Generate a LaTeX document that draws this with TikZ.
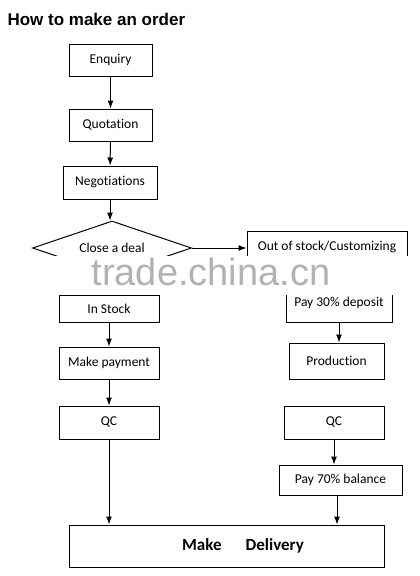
\documentclass[tikz,border=0pt]{standalone}
\usepackage{fontspec}
\setmainfont{Carlito}[Ligatures=NoCommon]
\newfontfamily\titlefont{Liberation Sans}
\usetikzlibrary{arrows.meta, positioning, shapes.geometric}
\tikzset{
  box/.style={draw, line width=1pt, minimum height=32, minimum width=100, inner sep=0pt,
    font=\fontsize{13.5}{15}\selectfont},
  decision/.style={box, diamond, aspect=3, minimum height=54, minimum width=159},
  arr/.style={-{Latex[length=8pt, width=6pt]}, line width=1pt},
}

\begin{document}
\begin{tikzpicture}[x=1pt, y=-1pt]
    \useasboundingbox[fill=white] (0,0) rectangle (420,576);
    \node[anchor=west, font=\titlefont\bfseries\fontsize{17}{19}\selectfont] (title) at (4,19) {How to make an order};
    % main line
    \node[box, minimum width=83] (enq) at (110.5,60) {Enquiry};
    \node[box, minimum width=83] (quot) at (110.5,125) {Quotation};
    \node[box, minimum width=94, minimum height=33] (nego) at (110,182.5) {Negotiations};
    \node[decision] (deal) at (112,248) {Close a deal};
    % left column
    \node[box, minimum height=27] (instock) at (109,308.5) {In Stock};
    \node[box] (pay) at (109,363) {Make payment};
    \node[box, minimum height=33] (qcl) at (109,422.5) {QC};
    % right column
    \node[box, minimum width=160, minimum height=31] (custom) at (327,246.5) {Out of stock/Customizing};
    \node[box, minimum width=106, minimum height=38] (dep) at (339,303) {Pay 30\% deposit};
    \node[box, minimum width=95, minimum height=36] (prod) at (336.5,361) {Production};
    \node[box, minimum height=33] (qcr) at (334,422.5) {QC};
    \node[box, minimum width=123, minimum height=30] (bal) at (340.5,480) {Pay 70\% balance};
    \node[box, minimum width=315, minimum height=42, font=\bfseries\fontsize{17}{19}\selectfont] (deliv) at (226.5,546)
      {\hspace*{33pt}Make\hspace{24pt}Delivery};
    \draw[arr] (enq) -- (quot);
    \draw[arr] (quot) -- (nego);
    \draw[arr] (nego.south) -- (nego.south |- deal.north);
    \draw[arr] (deal.east) -- (deal.east -| custom.west);
    \draw[arr] (deal.south) -- (deal.south |- instock.north);
    \draw[arr] (instock) -- (pay);
    \draw[arr] (pay) -- (qcl);
    \draw[arr] (qcl.south) -- (qcl.south |- deliv.north);
    \draw[arr] (custom.south -| dep) -- (dep.north);
    \draw[arr] (dep.south) -- (dep.south |- prod.north);
    \draw[arr] (qcr.south) -- (qcr.south |- bal.north);
    \draw[arr] (bal.south -| 337,0) -- (deliv.north -| 337,0);
    % watermark
    \fill[white] (30,256) rectangle (416,295);
    \node[font=\titlefont\fontsize{38}{40}\selectfont, text=gray!60] (mark) at (211,272) {trade.china.cn};
\end{tikzpicture}
\end{document}
